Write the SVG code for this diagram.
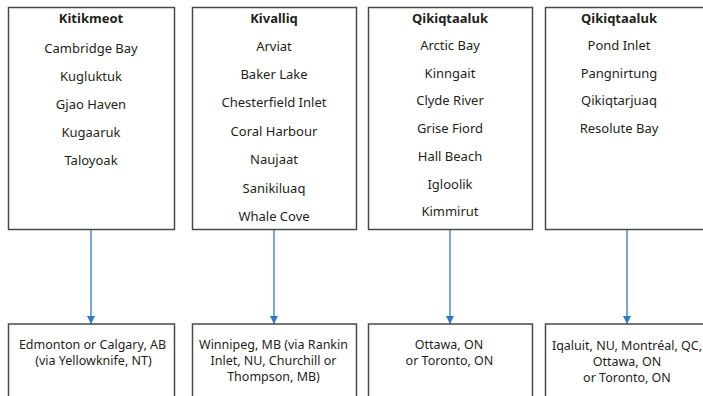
<svg xmlns="http://www.w3.org/2000/svg" width="703" height="396" viewBox="0 0 703 396">
<defs>
<style>
.box{fill:#fff;stroke:#4a4a4a;stroke-width:1.5}
text{font-family:"Noto Sans","Liberation Sans",sans-serif;font-size:13px;fill:#231f20;text-anchor:middle}
.t{font-weight:bold}
.b{font-size:12.5px}
.edge{stroke:#2a7bc6;stroke-width:1.3;fill:none;marker-end:url(#ah)}
</style>
<marker id="ah" viewBox="0 0 10 10" refX="10" refY="5" markerWidth="8" markerHeight="8" markerUnits="userSpaceOnUse" orient="auto">
<path d="M0,0 L10,5 L0,10 z" fill="#2a7bc6"/>
</marker>
</defs>
<rect width="703" height="396" fill="#fff"/>
<g id="connectors">
<line class="edge" x1="91" y1="230" x2="91" y2="324"/>
<line class="edge" x1="274" y1="230" x2="274" y2="324"/>
<line class="edge" x1="450" y1="230" x2="450" y2="324"/>
<line class="edge" x1="627" y1="230" x2="627" y2="324"/>
</g>
<g id="kitikmeot">
<rect class="box" x="8.5" y="7.5" width="166" height="222"/>
<text class="t" x="91" y="22.5">Kitikmeot</text>
<text x="91" y="52.7">Cambridge Bay</text>
<text x="91" y="80.8">Kugluktuk</text>
<text x="91" y="108.9">Gjao Haven</text>
<text x="91" y="137">Kugaaruk</text>
<text x="91" y="165.1">Taloyoak</text>
</g>
<g id="kivalliq">
<rect class="box" x="192.5" y="7.5" width="164" height="222"/>
<text class="t" x="274" y="22.5">Kivalliq</text>
<text x="274" y="50.7">Arviat</text>
<text x="274" y="79">Baker Lake</text>
<text x="274" y="107.4">Chesterfield Inlet</text>
<text x="274" y="135.8">Coral Harbour</text>
<text x="274" y="164.2">Naujaat</text>
<text x="274" y="192.6">Sanikiluaq</text>
<text x="274" y="221">Whale Cove</text>
</g>
<g id="qikiqtaaluk1">
<rect class="box" x="368.5" y="7.5" width="164" height="222"/>
<text class="t" x="450" y="22.5">Qikiqtaaluk</text>
<text x="450" y="50">Arctic Bay</text>
<text x="450" y="77.7">Kinngait</text>
<text x="450" y="105.4">Clyde River</text>
<text x="450" y="133.1">Grise Fiord</text>
<text x="450" y="160.8">Hall Beach</text>
<text x="450" y="188.5">Igloolik</text>
<text x="450" y="216.2">Kimmirut</text>
</g>
<g id="qikiqtaaluk2">
<rect class="box" x="545.5" y="7.5" width="164" height="222"/>
<text class="t" x="619" y="22.5">Qikiqtaaluk</text>
<text x="619" y="50">Pond Inlet</text>
<text x="619" y="77.7">Pangnirtung</text>
<text x="619" y="105.4">Qikiqtarjuaq</text>
<text x="619" y="133.1">Resolute Bay</text>
</g>
<g id="dest1">
<rect class="box" x="8.5" y="324" width="166" height="100"/>
<text class="b" x="92.5" y="348.5">Edmonton or Calgary, AB</text>
<text class="b" x="93.5" y="364.5">(via Yellowknife, NT)</text>
</g>
<g id="dest2">
<rect class="box" x="192.5" y="324" width="164" height="100"/>
<text class="b" x="273.5" y="349">Winnipeg, MB (via Rankin</text>
<text class="b" x="273.5" y="365">Inlet, NU, Churchill or</text>
<text class="b" x="273.5" y="381">Thompson, MB)</text>
</g>
<g id="dest3">
<rect class="box" x="368.5" y="324" width="164" height="100"/>
<text class="b" x="449" y="349">Ottawa, ON</text>
<text class="b" x="449.5" y="365">or Toronto, ON</text>
</g>
<g id="dest4">
<rect class="box" x="545.5" y="324" width="164" height="100"/>
<text class="b" x="627" y="350">Iqaluit, NU, Montréal, QC,</text>
<text class="b" x="627" y="366">Ottawa, ON</text>
<text class="b" x="627" y="382">or Toronto, ON</text>
</g>
</svg>
